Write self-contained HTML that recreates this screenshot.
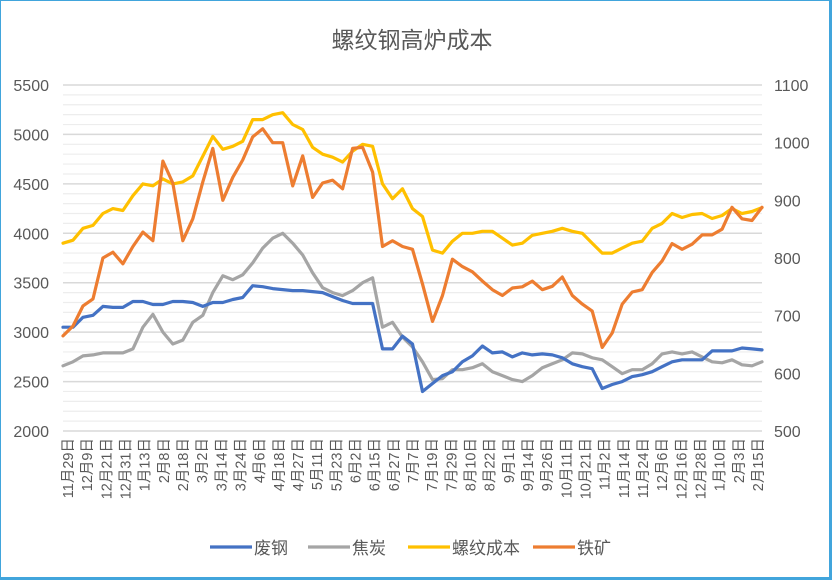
<!DOCTYPE html>
<html><head><meta charset="utf-8"><style>
html,body{margin:0;padding:0;background:#fff}
#wrap{position:relative;width:834px;height:580px;overflow:hidden;font-family:"Liberation Sans","Noto Sans CJK SC",sans-serif}
#frame{position:absolute;left:0;top:0;width:828px;height:576px;border:1px solid #41a5dc;border-width:1px 3px 3px 1px}
</style></head><body>
<div id="wrap">
<div id="frame"></div>
<svg id="chart" width="834" height="580" style="position:absolute;left:0;top:0">
<text x="412" y="48" text-anchor="middle" font-size="23" fill="#595959" font-family="Liberation Sans, Noto Sans CJK SC, sans-serif">螺纹钢高炉成本</text>
<g id="grid"></g><g id="axes"></g><g id="series"></g><g id="legend"></g>
</svg>
</div>
<script>
const categories=["11月29日","12月9日","12月21日","12月31日","1月13日","2月8日","2月18日","3月2日","3月14日","3月24日","4月6日","4月18日","4月27日","5月11日","5月23日","6月2日","6月15日","6月27日","7月7日","7月19日","7月29日","8月10日","8月22日","9月1日","9月14日","9月26日","10月11日","10月21日","11月2日","11月14日","11月24日","12月6日","12月16日","12月28日","1月10日","2月3日","2月15日"];
const leftTicks=[2000,2500,3000,3500,4000,4500,5000,5500];
const rightTicks=[500,600,700,800,900,1000,1100];
const scrap=[3050,3050,3150,3170,3260,3250,3250,3310,3310,3280,3280,3310,3310,3300,3260,3300,3300,3330,3350,3470,3460,3440,3430,3420,3420,3410,3400,3360,3320,3290,3290,3290,2830,2830,2960,2880,2400,2480,2560,2600,2700,2760,2860,2790,2800,2750,2790,2770,2780,2770,2740,2680,2650,2630,2430,2470,2500,2550,2570,2600,2650,2700,2720,2720,2720,2810,2810,2810,2840,2830,2820];
const coke=[2660,2700,2760,2770,2790,2790,2790,2830,3050,3180,3000,2880,2920,3100,3170,3400,3570,3530,3580,3700,3850,3950,4000,3900,3780,3600,3450,3400,3370,3420,3500,3550,3050,3100,2950,2850,2700,2520,2530,2620,2620,2640,2680,2600,2560,2520,2500,2560,2640,2680,2720,2790,2780,2740,2720,2650,2580,2620,2620,2680,2780,2800,2780,2800,2750,2700,2690,2720,2670,2660,2700];
const rebarCost=[3900,3930,4050,4080,4200,4250,4230,4380,4500,4480,4550,4500,4520,4580,4780,4980,4850,4880,4930,5150,5150,5200,5220,5100,5050,4870,4800,4770,4720,4830,4900,4880,4500,4350,4450,4250,4170,3830,3800,3920,4000,4000,4020,4020,3950,3880,3900,3980,4000,4020,4050,4020,4000,3900,3800,3800,3850,3900,3920,4050,4100,4200,4160,4190,4200,4150,4180,4250,4200,4220,4260];
const ironOre=[665,682,717,729,800,810,790,820,845,830,968,930,830,868,932,990,900,940,970,1010,1024,1000,1000,925,977,905,930,935,920,990,992,949,820,830,820,815,755,690,735,798,785,776,760,745,735,748,750,760,745,751,767,735,720,708,645,670,720,741,745,775,795,825,815,824,840,840,850,888,868,865,888];
const NS="http://www.w3.org/2000/svg";
const X0=63,X1=762,Y0=85,Y1=431;
function yL(v){return Y1-(v-2000)/3500*(Y1-Y0);}
function yR(v){return Y1-(v-500)/600*(Y1-Y0);}
function xS(i,n){return X0+i*(X1-X0)/(n-1);}
function xC(i){return 68+i*(758-68)/(categories.length-1);}
function mk(tag,attrs,parent){const e=document.createElementNS(NS,tag);for(const k in attrs)e.setAttribute(k,attrs[k]);parent.appendChild(e);return e;}
const grid=document.getElementById('grid'),axes=document.getElementById('axes'),ser=document.getElementById('series'),leg=document.getElementById('legend');
for(let v=2000;v<=5500;v+=100){
  const major=v%500===0;
  const l=mk('line',{x1:X0,x2:X1,y1:yL(v),y2:yL(v),stroke:major?'#d9d9d9':'#ededed','stroke-width':major?1.5:1.2},grid);
  
  
}
leftTicks.forEach(v=>{
  const t=mk('text',{x:49,y:yL(v)+6,'text-anchor':'end','font-size':16,fill:'#595959'},axes);
  t.textContent=v;
  
  
});
rightTicks.forEach(v=>{
  const t=mk('text',{x:774,y:yR(v)+6,'font-size':16,fill:'#595959'},axes);
  t.textContent=v;
  
  
});
categories.forEach((c,i)=>{
  const x=xC(i);
  const t=mk('text',{x:0,y:0,'text-anchor':'end','font-size':14.5,fill:'#595959',transform:`translate(${x+5},438) rotate(-90)`},axes);
  t.textContent=c;
  
  
});
function draw(vals,yf,color,name){
  const d=vals.map((v,i)=>(i?'L':'M')+xS(i,vals.length).toFixed(1)+','+yf(v).toFixed(1)).join(' ');
  const p=mk('path',{d:d,fill:'none',stroke:color,'stroke-width':3.2,'stroke-linejoin':'round','stroke-linecap':'round'},ser);
  
  
}
draw(coke,yL,'#a5a5a5','coke-line');
draw(scrap,yL,'#4472c4','scrap-steel-line');
draw(rebarCost,yL,'#ffc000','rebar-cost-line');
draw(ironOre,yR,'#ed7d31','iron-ore-line');
const legendItems=[["废钢","#4472c4",210],["焦炭","#a5a5a5",308],["螺纹成本","#ffc000",408],["铁矿","#ed7d31",533]];
legendItems.forEach(it=>{
  const g=mk('g',{},leg);
  
  
  mk('line',{x1:it[2],x2:it[2]+42,y1:547,y2:547,stroke:it[1],'stroke-width':3.2},g);
  const t=mk('text',{x:it[2]+44,y:554,'font-size':17,fill:'#595959'},g);
  t.textContent=it[0];
  
  
});
</script>
</body></html>
